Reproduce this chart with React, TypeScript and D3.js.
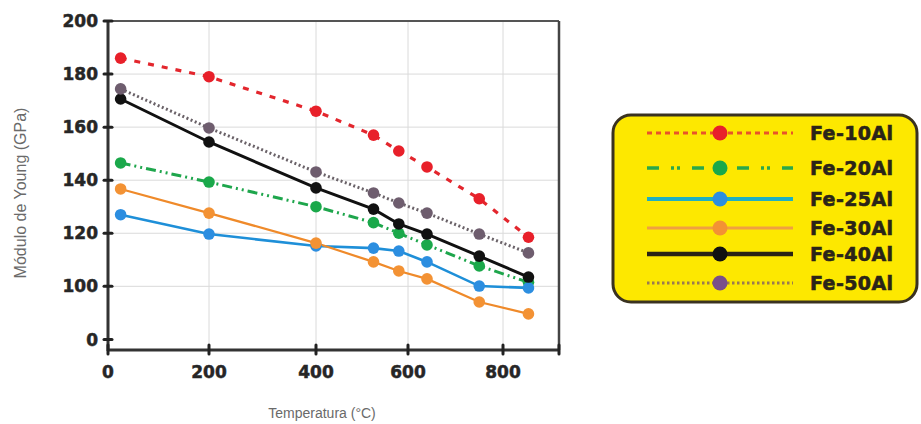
import React from "react";
import * as d3 from "d3";

const temps = [25, 200, 400, 525, 580, 640, 750, 850];
const fe10 = [186, 179, 166, 157, 151, 145, 133, 118.5];
const fe20 = [146.5, 139.3, 130, 124, 120, 115.6, 107.7, 101.5];
const fe25 = [127, 119.7, 115.2, 114.4, 113.3, 109.2, 100.1, 99.4];
const fe30 = [136.7, 127.6, 116.3, 109.2, 105.8, 102.8, 94.1, 89.6];
const fe40 = [170.6, 154.4, 137.1, 129.1, 123.5, 119.7, 111.4, 103.5];
const fe50 = [174.4, 159.7, 143.1, 135.2, 131.4, 127.6, 119.7, 112.6];

const seriesNames = ["Fe-10Al", "Fe-20Al", "Fe-25Al", "Fe-30Al", "Fe-40Al", "Fe-50Al"];
const xTicks = [0, 200, 400, 600, 800];
const yTicks = [80, 100, 120, 140, 160, 180, 200];
const yTickLabels = ["0", "100", "120", "140", "160", "180", "200"];

const styles = [
  { line: "#e3262d", marker: "#e8202a", legMarker: "#e8202a", width: 3.2, dash: "6,8", legLine: "#e8542a", legDash: "5,4", legW: 3 },
  { line: "#1ea64c", marker: "#1aa84a", legMarker: "#1aa84a", width: 3, dash: "10,4,2,4,2,4", legLine: "#2aa84a", legDash: "12,12,3,3,3,12", legW: 3.5 },
  { line: "#1e8fd8", marker: "#2c8ee0", legMarker: "#2c8ee0", width: 2.6, dash: null, legLine: "#1fb0c0", legDash: null, legW: 4 },
  { line: "#ef8a2a", marker: "#f39234", legMarker: "#f39234", width: 2.2, dash: null, legLine: "#f0a040", legDash: null, legW: 3 },
  { line: "#111111", marker: "#111111", legMarker: "#111111", width: 3, dash: null, legLine: "#2a2214", legDash: null, legW: 4.5 },
  { line: "#6a6268", marker: "#6e5d6e", legMarker: "#7a4f8a", width: 3, dash: "2,2.5", legLine: "#9a7a50", legDash: "2.5,2.5", legW: 3 },
];

const allSeries = [fe10, fe20, fe25, fe30, fe40, fe50];

export default function App() {
  const W = 921, H = 424;
  const x = d3
    .scaleLinear()
    .domain([0, 200, 400, 600, 800, 910])
    .range([108, 209, 316, 408, 503, 559]);
  const y = d3.scaleLinear().domain([76, 200]).range([350, 21]);
  const line = d3
    .line<number>()
    .x((_, i) => x(temps[i]))
    .y((d) => y(d));

  const legRowsY = [133, 168, 199, 228, 254, 283];

  return (
    <svg
      width={W}
      height={H}
      style={{ position: "absolute", left: 0, top: 0, background: "#fff" }}
    >
      <rect x={0} y={0} width={W} height={H} fill="#fff" />
      {/* grid */}
      {xTicks.filter((t) => t > 0).map((t) => (
        <line key={"gx" + t} x1={x(t)} x2={x(t)} y1={y(200)} y2={y(76)} stroke="#dadada" strokeWidth={1} />
      ))}
      {yTicks.filter((t) => t >= 100 && t < 200).map((t) => (
        <line key={"gy" + t} x1={x(0)} x2={x(910)} y1={y(t)} y2={y(t)} stroke="#dadada" strokeWidth={1} />
      ))}
      {/* frame */}
      <line x1={x(0)} x2={x(910)} y1={y(200)} y2={y(200)} stroke="#555" strokeWidth={2} />
      <line x1={x(910)} x2={x(910)} y1={y(200)} y2={y(76)} stroke="#444" strokeWidth={2.5} />
      <line x1={x(0)} x2={x(910) + 1} y1={y(76)} y2={y(76)} stroke="#333" strokeWidth={3} />
      <line x1={x(0)} x2={x(0)} y1={y(200) - 1} y2={y(76) + 1} stroke="#333" strokeWidth={3} />

      {/* ticks */}
      {yTicks.map((t, i) => (
        <g key={"yt" + t}>
          <line x1={104} x2={112} y1={y(t)} y2={y(t)} stroke="#222" strokeWidth={3} strokeLinecap="round" />
          <text
            x={98}
            y={y(t)}
            dy="0.36em"
            textAnchor="end"
            fontFamily="DejaVu Sans"
            fontWeight="bold"
            fontSize={17}
            fill="#262626"
            stroke="#262626"
            strokeWidth={0.5}
          >
            {yTickLabels[i]}
          </text>
        </g>
      ))}
      {xTicks.concat([910]).map((t) => (
        <line key={"xt" + t} x1={x(t)} x2={x(t)} y1={345} y2={354} stroke="#222" strokeWidth={3} strokeLinecap="round" />
      ))}
      {xTicks.map((t) => (
        <text
          key={"xl" + t}
          x={x(t)}
          y={378}
          textAnchor="middle"
          fontFamily="DejaVu Sans"
          fontWeight="bold"
          fontSize={17}
          fill="#262626"
          stroke="#262626"
          strokeWidth={0.5}
        >
          {t}
        </text>
      ))}

      {/* axis titles */}
      <text
        x={322}
        y={418}
        textAnchor="middle"
        fontFamily="Liberation Sans"
        fontSize={14}
        fill="#6a6a6a"
      >
        Temperatura (°C)
      </text>
      <text
        transform="translate(26,193) rotate(-90)"
        textAnchor="middle"
        fontFamily="Liberation Sans"
        fontSize={16}
        fill="#6a6a6a"
      >
        Módulo de Young (GPa)
      </text>

      {/* series lines */}
      {allSeries.map((s, k) => (
        <path
          key={"l" + k}
          d={line(s) || ""}
          fill="none"
          stroke={styles[k].line}
          strokeWidth={styles[k].width}
          strokeDasharray={styles[k].dash || undefined}
        />
      ))}
      {/* markers */}
      {allSeries.map((s, k) => (
        <g key={"m" + k}>
          {s.map((v, i) => (
            <circle key={i} cx={x(temps[i])} cy={y(v)} r={5.8} fill={styles[k].marker} />
          ))}
        </g>
      ))}

      {/* legend */}
      <rect x={613} y={115} width={304} height={187} rx={18} ry={18} fill="#fde800" stroke="#3a3220" strokeWidth={3} />
      {seriesNames.map((n, k) => (
        <g key={"lg" + k}>
          <line
            x1={647}
            x2={793}
            y1={legRowsY[k]}
            y2={legRowsY[k]}
            stroke={styles[k].legLine}
            strokeWidth={styles[k].legW}
            strokeDasharray={styles[k].legDash || undefined}
          />
          <circle cx={720} cy={legRowsY[k]} r={7.5} fill={styles[k].legMarker} />
          <text
            x={810}
            y={legRowsY[k] + 7}
            fontFamily="DejaVu Sans"
            fontWeight="bold"
            fontSize={19}
            fill="#2a2418"
            stroke="#2a2418"
            strokeWidth={0.6}
            letterSpacing={0.4}
          >
            {n}
          </text>
        </g>
      ))}
    </svg>
  );
}
